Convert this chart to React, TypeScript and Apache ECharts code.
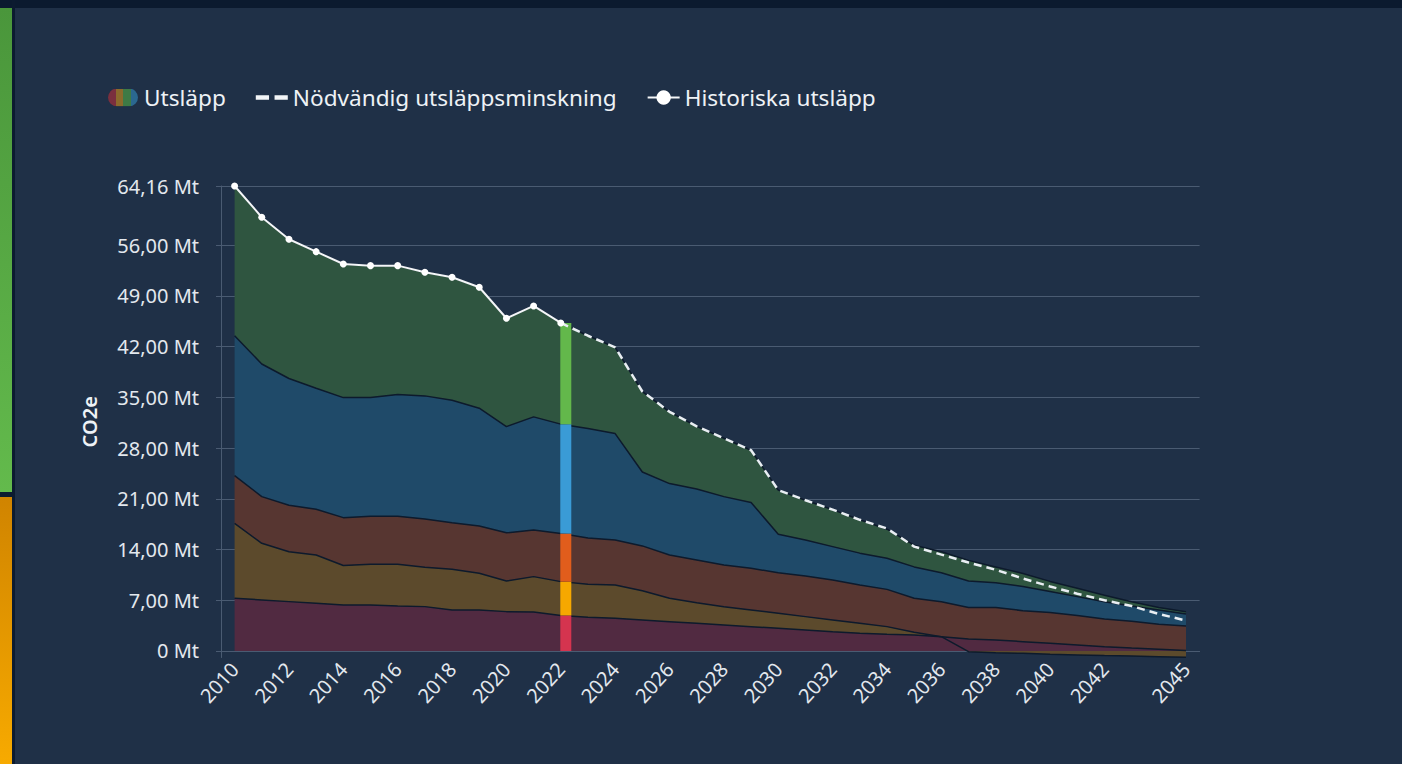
import React, { useEffect, useRef } from "react";
import * as echarts from "echarts";

const years = [
  "2010", "2011", "2012", "2013", "2014", "2015", "2016", "2017", "2018", "2019", "2020", "2021",
  "2022", "2023", "2024", "2025", "2026", "2027", "2028", "2029", "2030", "2031", "2032", "2033",
  "2034", "2035", "2036", "2037", "2038", "2039", "2040", "2041", "2042", "2043", "2044", "2045",
];

const maroon = [
  7.27, 7.04, 6.81, 6.58, 6.35, 6.35, 6.2, 6.12, 5.66, 5.66, 5.43, 5.38,
  4.9, 4.64, 4.5, 4.28, 4.05, 3.82, 3.59, 3.36, 3.13, 2.9, 2.66, 2.43,
  2.3, 2.2, 1.95, 1.66, 1.5, 1.29, 1.06, 0.83, 0.6, 0.4, 0.23, 0.05,
];
const olive = [
  10.33, 7.82, 6.89, 6.67, 5.45, 5.63, 5.78, 5.44, 5.62, 5.06, 4.23, 4.88,
  4.67, 4.56, 4.6, 4.02, 3.22, 2.85, 2.51, 2.3, 2.07, 1.84, 1.62, 1.39,
  1.06, 0.37, 0.02, -0.1, -0.23, -0.32, -0.46, -0.55, -0.64, -0.69, -0.78, -0.87,
];
const brown = [
  6.6, 6.44, 6.4, 6.3, 6.6, 6.62, 6.62, 6.64, 6.42, 6.53, 6.64, 6.44,
  6.63, 6.4, 6.2, 6.2, 5.98, 5.89, 5.77, 5.74, 5.6, 5.61, 5.52, 5.28,
  5.14, 4.7, 4.83, 4.34, 4.5, 4.27, 4.24, 4.07, 3.8, 3.7, 3.47, 3.4,
];
const blue = [
  19.3, 18.3, 17.5, 16.7, 16.56, 16.36, 16.8, 17.0, 16.9, 16.25, 14.66, 15.6,
  15.1, 15.1, 14.7, 10.2, 9.85, 9.79, 9.43, 9.1, 5.3, 4.95, 4.6, 4.4,
  4.3, 4.33, 4.0, 3.66, 3.4, 3.34, 2.9, 2.6, 2.4, 2.1, 1.96, 1.65,
];
const green = [
  20.66, 20.25, 19.21, 18.85, 18.44, 18.21, 17.77, 17.06, 16.97, 16.69, 14.95, 15.31,
  13.96, 12.8, 11.9, 11.1, 9.9, 8.65, 8.05, 7.2, 6.1, 5.5, 5.1, 4.6,
  4.0, 3.0, 2.9, 2.84, 2.2, 1.8, 1.4, 1.15, 0.9, 0.6, 0.34, 0.3,
];

// Historiska utsläpp 2010–2022
const historic = [64.16, 59.85, 56.81, 55.1, 53.4, 53.17, 53.17, 52.26, 51.57, 50.19, 45.91, 47.61, 45.26];
// Nödvändig utsläppsminskning 2022–2045
const required = [
  45.26, 43.5, 41.9, 35.8, 33.0, 31.0, 29.35, 27.7, 22.2, 20.8, 19.5, 18.1,
  16.9, 14.4, 13.3, 12.2, 11.2, 10.0, 8.9, 7.9, 7.0, 6.2, 5.1, 4.2,
];

const yTicks = [0, 7, 14, 21, 28, 35, 42, 49, 56, 64.16];
const highlightYear = "2022";

const layerColors = ["#512a41", "#5c4a2c", "#573631", "#1f4a69", "#2f5540"];
const highlightColors = ["#d5344f", "#f6a800", "#e15d1c", "#3a9bd6", "#63b84b"];
const layerNames = ["Transporter", "Industri", "Energi", "Jordbruk", "Övrigt"];

const iconSvg =
  '<svg xmlns="http://www.w3.org/2000/svg" width="30" height="18" viewBox="0 0 30 18">' +
  '<defs><clipPath id="c"><rect x="0" y="0" width="30" height="18" rx="9" ry="9"/></clipPath></defs>' +
  '<g clip-path="url(#c)">' +
  '<rect x="0" y="0" width="8" height="18" fill="#7a2f3e"/>' +
  '<rect x="8" y="0" width="7" height="18" fill="#8c6a2c"/>' +
  '<rect x="15" y="0" width="8" height="18" fill="#3e7a45"/>' +
  '<rect x="23" y="0" width="7" height="18" fill="#2b6890"/>' +
  "</g></svg>";
const utslappIcon = "image://data:image/svg+xml;charset=utf-8," + encodeURIComponent(iconSvg);

export default function App() {
  const ref = useRef<HTMLDivElement>(null);

  useEffect(() => {
    if (!ref.current) return;
    const chart = echarts.init(ref.current, null, { renderer: "svg" });

    const layers = [maroon, olive, brown, blue, green];
    const hIdx = years.indexOf(highlightYear);
    const hData: number[][] = [];
    let pos = 0;
    layers.forEach((arr, k) => {
      const v = arr[hIdx];
      hData.push([hIdx, pos, pos + v, k]);
      pos += v;
    });

    const historicData = years.map((_, i) => (i < historic.length ? historic[i] : "-"));
    const reqStart = years.indexOf(highlightYear);
    const requiredData = years.map((_, i) => (i >= reqStart ? required[i - reqStart] : "-"));

    const gridColor = "#4a5b72";
    const font = "Noto Sans";

    const areaSeries = layers.map((arr, k) => ({
      type: "line",
      name: layerNames[k],
      stack: "total",
      data: arr,
      symbol: "none",
      lineStyle: { color: "#0d1a2c", width: 1.5 },
      areaStyle: { color: layerColors[k], opacity: 1 },
      itemStyle: { color: layerColors[k] },
      z: 2,
    }));

    chart.setOption({
      animation: false,
      backgroundColor: "#1f3047",
      textStyle: { fontFamily: font },
      graphic: [
        { type: "rect", shape: { x: 0, y: 0, width: 1402, height: 8 }, style: { fill: "#0b1a2f" }, z: 100 },
        { type: "rect", shape: { x: 12, y: 0, width: 3, height: 764 }, style: { fill: "#0c1b30" }, z: 100 },
        {
          type: "rect",
          shape: { x: 0, y: 8, width: 12, height: 484 },
          style: {
            fill: new echarts.graphic.LinearGradient(0, 0, 0, 1, [
              { offset: 0, color: "#4a963b" },
              { offset: 1, color: "#63ba4c" },
            ]),
          },
          z: 100,
        },
        { type: "rect", shape: { x: 0, y: 492, width: 12, height: 5 }, style: { fill: "#0c1b30" }, z: 100 },
        {
          type: "rect",
          shape: { x: 0, y: 497, width: 12, height: 267 },
          style: {
            fill: new echarts.graphic.LinearGradient(0, 0, 0, 1, [
              { offset: 0, color: "#d08400" },
              { offset: 1, color: "#f7aa00" },
            ]),
          },
          z: 100,
        },
      ],
      legend: {
        left: 102,
        top: 81,
        itemGap: 30,
        itemWidth: 32,
        itemHeight: 18,
        selectedMode: false,
        textStyle: { color: "#eef2f6", fontSize: 22.6, fontFamily: font },
        data: [
          { name: "Utsläpp", icon: utslappIcon },
          { name: "Nödvändig utsläppsminskning", icon: "path://M0,0H12V4H0Z M17,0H29V4H17Z" },
          { name: "Historiska utsläpp" },
        ],
      },
      grid: { left: 221, right: 202.4, top: 186, bottom: 106.5, containLabel: false },
      xAxis: {
        type: "category",
        data: years,
        boundaryGap: true,
        axisLine: { show: true, onZero: true, lineStyle: { color: gridColor, width: 1 } },
        axisTick: { show: false },
        axisLabel: {
          color: "#e3e8ee",
          fontSize: 20,
          rotate: 48,
          margin: 8,
          interval: (i: number) => (i % 2 === 0 && i !== years.length - 2) || i === years.length - 1,
        },
        splitLine: { show: false },
      },
      yAxis: {
        type: "value",
        min: -0.9,
        max: 64.16,
        name: "CO2e",
        nameLocation: "middle",
        nameRotate: 90,
        nameGap: 122,
        nameTextStyle: { color: "#eef2f6", fontSize: 20, fontWeight: 600, fontFamily: font },
        axisLine: { show: true, lineStyle: { color: gridColor } },
        axisTick: { show: true, length: 5, lineStyle: { color: gridColor }, customValues: yTicks },
        axisLabel: {
          color: "#e3e8ee",
          fontSize: 20,
          margin: 22,
          customValues: yTicks,
          formatter: (v: number) => (v === 0 ? "0 Mt" : v.toFixed(2).replace(".", ",") + " Mt"),
        },
        splitLine: { show: true, lineStyle: { color: gridColor, width: 1 } },
      },
      series: [
        ...areaSeries,
        {
          type: "custom",
          name: "Utsläpp",
          data: hData,
          encode: { x: 0, y: [1, 2] },
          z: 3,
          renderItem: (_params: any, api: any) => {
            const i = api.value(0);
            const lo = api.value(1);
            const hi = api.value(2);
            const k = api.value(3);
            const top = api.coord([i, hi]);
            const bot = api.coord([i, lo]);
            return {
              type: "rect",
              shape: { x: top[0] - 0.5, y: top[1], width: 11, height: bot[1] - top[1] },
              style: { fill: highlightColors[k] },
            };
          },
        },
        {
          type: "line",
          name: "Nödvändig utsläppsminskning",
          data: requiredData,
          symbol: "none",
          lineStyle: { color: "#e9eef3", width: 2.5, type: [8, 5] },
          itemStyle: { color: "#f2f5f8" },
          z: 4,
        },
        {
          type: "line",
          name: "Historiska utsläpp",
          data: historicData,
          symbol: "circle",
          symbolSize: 7,
          showSymbol: true,
          lineStyle: { color: "#f4f6f8", width: 2 },
          itemStyle: { color: "#ffffff" },
          z: 5,
        },
      ],
    });

    return () => chart.dispose();
  }, []);

  return (
    <div
      ref={ref}
      style={{ position: "absolute", left: 0, top: 0, width: 1402, height: 764 }}
    />
  );
}
